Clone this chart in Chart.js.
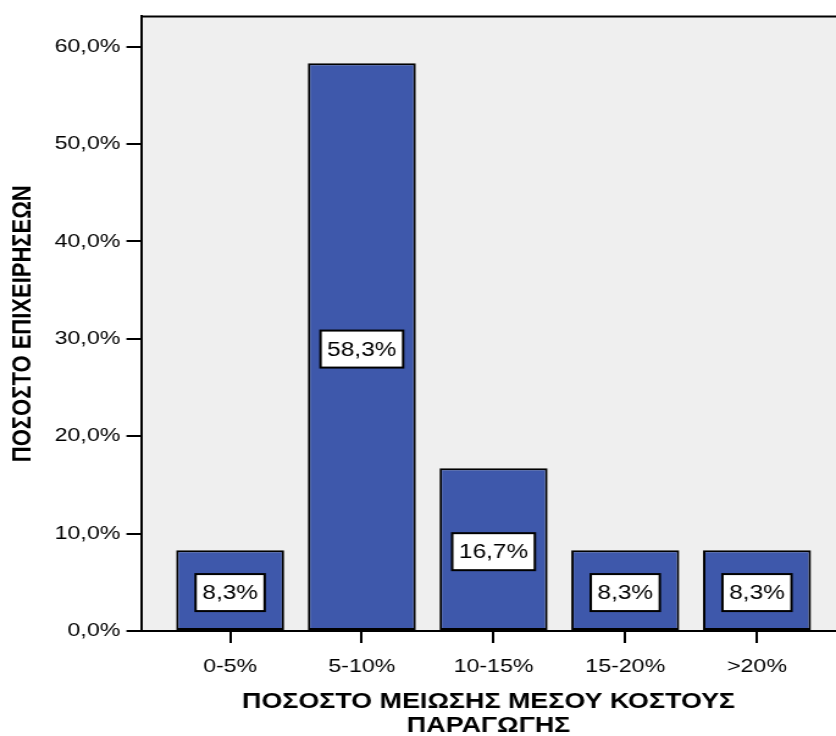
<!DOCTYPE html>
<html>
<head>
<meta charset="utf-8">
<script src="https://cdn.jsdelivr.net/npm/chart.js@4/dist/chart.umd.min.js"></script>
<style>
  html, body { margin: 0; padding: 0; background: #fff; }
  #chart { display: block; }
</style>
</head>
<body>
<!-- the original picture is stretched sideways, so the canvas is drawn narrower and widened by its inline style -->
<canvas id="chart" width="685" height="736" style="width:836px;height:736px"></canvas>
<script>
// data
const categories = ['0-5%', '5-10%', '10-15%', '15-20%', '>20%'];
const percentages = [8.3, 58.3, 16.7, 8.3, 8.3];
const yTicks = [0, 10, 20, 30, 40, 50, 60];

const xTitle = ['ΠΟΣΟΣΤΟ ΜΕΙΩΣΗΣ ΜΕΣΟΥ ΚΟΣΤΟΥΣ', 'ΠΑΡΑΓΩΓΗΣ'];
const yTitle = 'ΠΟΣΟΣΤΟ ΕΠΙΧΕΙΡΗΣΕΩΝ';

const FONT = '"Liberation Sans", Arial, sans-serif';

function fmt(v) {
    return v.toFixed(1).replace('.', ',') + '%';
}

// grey plot background and the frame line on top
const plotFrame = {
    id: 'plotFrame',
    beforeDraw(chart) {
        const { ctx, chartArea: a } = chart;
        ctx.save();
        ctx.fillStyle = '#efefef';
        ctx.fillRect(a.left, a.top, a.right - a.left, a.bottom - a.top);
        ctx.strokeStyle = '#000';
        ctx.lineWidth = 2;
        ctx.beginPath();
        ctx.moveTo(a.left, a.top);
        ctx.lineTo(a.right, a.top);
        ctx.stroke();
        ctx.restore();
    }
};

// white boxes with the value in the middle of each bar
const barLabels = {
    id: 'barLabels',
    afterDatasetsDraw(chart) {
        const { ctx } = chart;
        const meta = chart.getDatasetMeta(0);
        ctx.save();
        ctx.font = '20px ' + FONT;
        ctx.textAlign = 'center';
        ctx.textBaseline = 'middle';
        meta.data.forEach((bar, i) => {
            const text = fmt(percentages[i]);
            const w = ctx.measureText(text).width + 11;
            const h = 37;
            const cx = bar.x;
            const cy = (bar.y + bar.base) / 2 + 2.5;
            ctx.fillStyle = '#fff';
            ctx.fillRect(cx - w / 2, cy - h / 2, w, h);
            ctx.strokeStyle = '#000';
            ctx.lineWidth = 2;
            ctx.strokeRect(cx - w / 2, cy - h / 2, w, h);
            ctx.fillStyle = '#000';
            ctx.fillText(text, cx, cy + 1);
        });
        ctx.restore();
    }
};

const ctx = document.getElementById('chart').getContext('2d');
new Chart(ctx, {
    type: 'bar',
    data: {
        datasets: [{
            data: categories.map((c, i) => ({ x: i, y: percentages[i] })),
            backgroundColor: '#3e58ab',
            borderColor: '#000',
            borderWidth: 2,
            borderSkipped: false,
            categoryPercentage: 1,
            barPercentage: 0.82
        }]
    },
    options: {
        responsive: false,
        animation: false,
        devicePixelRatio: 1,
        layout: { padding: { top: 14, right: 0, bottom: 0, left: 0 } },
        plugins: {
            legend: { display: false },
            tooltip: { enabled: false }
        },
        scales: {
            x: {
                type: 'linear',
                min: -0.676,
                max: 4.60,
                offset: false,
                grid: { offset: false, drawOnChartArea: false, tickLength: 12, color: '#000', lineWidth: 2 },
                border: { display: true, color: '#000', width: 2 },
                ticks: {
                    autoSkip: false,
                    maxRotation: 0,
                    padding: 12,
                    color: '#000',
                    font: { family: FONT, size: 19 },
                    callback: (v) => categories[v]
                },
                afterBuildTicks: (scale) => {
                    scale.ticks = categories.map((c, i) => ({ value: i }));
                },
                afterFit: (scale) => { scale.height = 105; },
                title: {
                    display: true,
                    text: xTitle,
                    color: '#000',
                    font: { family: FONT, size: 22, weight: 'bold', lineHeight: 1.1 },
                    padding: { top: 0, bottom: -2 }
                }
            },
            y: {
                min: 0,
                max: 63.1,
                grid: { drawOnChartArea: false, tickLength: 12, color: '#000', lineWidth: 2 },
                border: { display: true, color: '#000', width: 2 },
                ticks: {
                    padding: 5,
                    color: '#000',
                    font: { family: FONT, size: 19 },
                    callback: (v) => fmt(v)
                },
                afterBuildTicks: (scale) => {
                    scale.ticks = yTicks.map(v => ({ value: v }));
                },
                afterFit: (scale) => { scale.width = 115.6; },
                title: {
                    display: true,
                    text: yTitle,
                    color: '#000',
                    font: { family: FONT, size: 22, weight: 'bold' },
                    padding: { top: 6, bottom: 0 }
                }
            }
        }
    },
    plugins: [plotFrame, barLabels]
});
</script>
</body>
</html>
